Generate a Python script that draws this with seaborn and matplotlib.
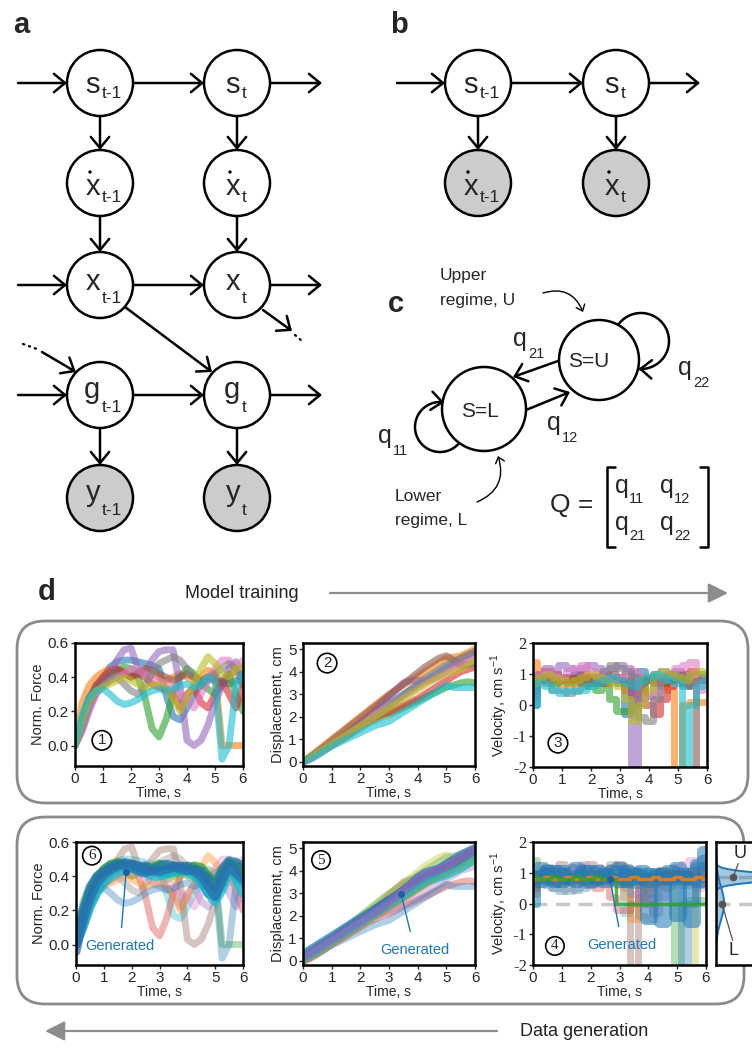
import numpy as np
import pandas as pd
import matplotlib
matplotlib.use("Agg")
import matplotlib.pyplot as plt
import seaborn as sns
from matplotlib.patches import Circle, FancyArrowPatch, FancyBboxPatch

sns.set_style("ticks")
plt.rcParams["font.family"] = ["Liberation Sans", "DejaVu Sans"]
plt.rcParams["mathtext.fontset"] = "custom"
plt.rcParams["mathtext.rm"] = "Liberation Sans"
plt.rcParams["mathtext.it"] = "Liberation Sans:italic"

# ---------------------------------------------------------------- data
TIME = np.linspace(0, 6, 25)          # s, 0.25 s sampling

force_observed = [
    [0.00, 0.10, 0.22, 0.32, 0.40, 0.46, 0.49, 0.50, 0.50, 0.49, 0.48, 0.47, 0.45, 0.30, 0.17, 0.15, 0.22, 0.30, 0.36, 0.38, 0.40, 0.37, 0.36, 0.38, 0.38],
    [0.00, 0.25, 0.35, 0.40, 0.43, 0.45, 0.44, 0.42, 0.40, 0.42, 0.44, 0.42, 0.40, 0.38, 0.40, 0.42, 0.40, 0.38, 0.40, 0.44, 0.42, 0.00, 0.00, 0.00, 0.00],
    [0.00, 0.15, 0.28, 0.33, 0.36, 0.40, 0.44, 0.46, 0.45, 0.40, 0.28, 0.10, 0.05, 0.15, 0.30, 0.40, 0.45, 0.42, 0.36, 0.33, 0.30, 0.35, 0.42, 0.30, 0.20],
    [0.00, 0.12, 0.25, 0.35, 0.40, 0.44, 0.45, 0.43, 0.40, 0.42, 0.40, 0.36, 0.34, 0.33, 0.30, 0.22, 0.30, 0.34, 0.25, 0.22, 0.30, 0.38, 0.30, 0.22, 0.35],
    [0.00, 0.08, 0.20, 0.30, 0.36, 0.42, 0.50, 0.56, 0.57, 0.45, 0.42, 0.50, 0.55, 0.56, 0.56, 0.35, 0.03, 0.00, 0.03, 0.12, 0.25, 0.35, 0.45, 0.49, 0.40],
    [0.00, 0.14, 0.27, 0.35, 0.38, 0.42, 0.44, 0.42, 0.40, 0.43, 0.45, 0.44, 0.42, 0.40, 0.38, 0.40, 0.42, 0.40, 0.38, 0.40, 0.38, 0.36, 0.40, 0.45, 0.35],
    [0.00, 0.10, 0.22, 0.30, 0.35, 0.38, 0.40, 0.42, 0.45, 0.44, 0.42, 0.40, 0.38, 0.36, 0.34, 0.30, 0.28, 0.22, 0.30, 0.38, 0.45, 0.50, 0.50, 0.45, 0.50],
    [0.00, 0.12, 0.25, 0.32, 0.35, 0.38, 0.40, 0.36, 0.32, 0.30, 0.35, 0.42, 0.48, 0.50, 0.52, 0.50, 0.45, 0.40, 0.35, 0.40, 0.42, 0.45, 0.48, 0.45, 0.40],
    [0.00, 0.14, 0.26, 0.32, 0.34, 0.36, 0.38, 0.40, 0.38, 0.36, 0.34, 0.35, 0.36, 0.34, 0.28, 0.20, 0.28, 0.36, 0.45, 0.52, 0.48, 0.42, 0.40, 0.45, 0.46],
    [0.00, 0.18, 0.28, 0.32, 0.33, 0.30, 0.26, 0.24, 0.25, 0.27, 0.30, 0.32, 0.33, 0.32, 0.33, 0.35, 0.36, 0.34, 0.36, 0.40, 0.38, -0.08, 0.00, 0.35, 0.42],
]

displacement_observed = [
    [0.0, 0.20, 0.40, 0.60, 0.80, 1.00, 1.20, 1.45, 1.70, 1.95, 2.20, 2.40, 2.60, 2.80, 3.00, 3.20, 3.40, 3.60, 3.80, 4.00, 4.20, 4.40, 4.60, 4.75, 4.90],
    [0.0, 0.25, 0.50, 0.75, 1.00, 1.25, 1.50, 1.75, 2.00, 2.25, 2.50, 2.75, 3.00, 3.20, 3.40, 3.60, 3.80, 4.00, 4.20, 4.40, 4.60, 4.65, 4.70, 4.85, 5.00],
    [0.0, 0.20, 0.38, 0.55, 0.72, 0.90, 1.10, 1.30, 1.50, 1.70, 1.85, 2.00, 2.10, 2.25, 2.40, 2.55, 2.70, 2.85, 3.00, 3.15, 3.30, 3.40, 3.50, 3.55, 3.50],
    [0.0, 0.20, 0.40, 0.60, 0.80, 1.00, 1.20, 1.40, 1.60, 1.80, 1.95, 2.10, 2.20, 2.35, 2.50, 2.65, 2.80, 3.00, 3.20, 3.40, 3.60, 3.80, 4.00, 4.10, 4.20],
    [0.0, 0.10, 0.30, 0.50, 0.75, 1.00, 1.25, 1.50, 1.75, 2.00, 2.30, 2.60, 2.90, 3.20, 3.50, 3.60, 3.60, 3.60, 3.65, 3.80, 4.00, 4.20, 4.40, 4.60, 4.80],
    [0.0, 0.20, 0.45, 0.70, 0.95, 1.20, 1.45, 1.70, 1.95, 2.20, 2.45, 2.70, 2.95, 3.20, 3.45, 3.70, 3.95, 4.20, 4.40, 4.60, 4.70, 4.50, 4.30, 4.30, 4.40],
    [0.0, 0.15, 0.35, 0.55, 0.75, 0.95, 1.15, 1.35, 1.60, 1.85, 2.10, 2.30, 2.50, 2.70, 2.90, 3.10, 3.30, 3.50, 3.70, 3.85, 4.00, 4.20, 4.40, 4.60, 4.70],
    [0.0, 0.20, 0.40, 0.60, 0.80, 1.00, 1.20, 1.40, 1.60, 1.80, 2.00, 2.20, 2.45, 2.70, 2.95, 3.20, 3.45, 3.70, 3.90, 4.10, 4.30, 4.45, 4.60, 4.75, 4.90],
    [0.0, 0.20, 0.40, 0.60, 0.80, 1.00, 1.20, 1.40, 1.60, 1.80, 2.00, 2.20, 2.40, 2.60, 2.80, 3.00, 3.20, 3.40, 3.60, 3.75, 3.90, 4.00, 4.10, 4.30, 4.50],
    [0.0, 0.15, 0.30, 0.50, 0.70, 0.85, 1.00, 1.15, 1.30, 1.45, 1.60, 1.70, 1.80, 2.00, 2.20, 2.40, 2.60, 2.80, 3.00, 3.20, 3.40, 3.30, 3.30, 3.30, 3.30],
]

velocity_observed = [
    [0.0, 0.9, 0.9, 1.0, 0.8, 0.9, 1.0, 0.8, 0.7, 0.8, 0.9, 0.8, 0.7, -0.3, 1.0, 1.1, 0.9, 0.8, 0.7, 0.8, 0.9, 0.6, 0.7, 0.8, 0.8],
    [1.4, 1.1, 0.9, 0.8, 0.7, 0.75, 0.7, 0.8, 0.9, 0.95, 0.9, 0.8, 0.75, 0.7, 0.8, 0.9, 0.85, 0.7, 0.6, 0.5, -2.2, 0.0, 0.1, 0.1, 0.1],
    [0.5, 0.9, 0.8, 0.7, 0.8, 0.9, 0.8, 0.7, 0.6, 0.5, 0.6, 0.2, -0.2, -0.2, 0.0, 0.5, 0.8, 0.9, 0.7, 0.8, 1.0, 0.8, 0.9, 1.0, 1.0],
    [0.6, 1.0, 1.1, 1.0, 0.9, 0.8, 0.9, 1.0, 0.9, 0.8, 0.7, 0.8, 0.9, 0.5, 0.3, 0.5, 0.0, -0.3, 0.2, 0.6, 0.8, 1.0, 1.1, 0.9, 0.8],
    [0.3, 1.0, 1.2, 1.0, 1.3, 1.2, 1.1, 1.2, 1.3, 1.2, 1.1, 1.2, 1.3, 1.2, -2.2, 0.2, 0.3, 1.0, 1.1, 1.0, 1.1, 1.0, 0.8, 0.9, 0.8],
    [0.6, 0.8, 0.9, 1.0, 0.8, 0.7, 0.8, 0.9, 0.8, 0.7, 0.9, 1.0, 0.8, 0.7, 0.6, 0.7, 0.8, 0.7, 0.9, 1.0, 0.9, 0.7, 0.6, -2.2, -2.2],
    [0.7, 1.0, 1.1, 1.0, 0.9, 1.1, 1.2, 1.3, 1.1, 1.0, 0.9, 0.8, 0.9, 1.0, 1.1, 0.2, 0.0, 0.4, 0.9, 1.0, 1.2, 1.3, 1.4, 0.5, 0.7],
    [0.6, 0.9, 0.7, 0.5, 0.5, 0.4, 0.5, 0.6, 0.7, 0.9, 1.1, 1.3, 1.2, 1.1, 0.9, -0.4, -0.5, 0.2, 0.8, 1.0, 0.9, 0.8, 0.7, 0.8, 0.9],
    [0.7, 0.9, 1.0, 0.9, 0.8, 0.7, 0.8, 0.9, 1.0, 0.9, 0.8, 0.7, 0.6, 0.2, -0.5, 0.0, 0.5, 1.0, 1.1, 1.0, 0.9, 0.8, 1.0, 1.1, 1.0],
    [0.0, 0.7, 0.6, 0.5, 0.4, 0.5, 0.45, 0.5, 0.6, 0.7, 0.8, 0.9, 0.8, 0.7, 0.6, 0.8, 0.9, 1.0, 0.9, 0.8, 0.7, -2.2, 0.0, 0.6, 0.8],
]

force_generated = [
    [0.00, 0.15, 0.28, 0.37, 0.42, 0.45, 0.47, 0.47, 0.46, 0.45, 0.46, 0.44, 0.42, 0.44, 0.46, 0.45, 0.44, 0.42, 0.38, 0.30, 0.28, 0.36, 0.47, 0.44, 0.40],
    [0.00, 0.12, 0.24, 0.33, 0.39, 0.43, 0.45, 0.46, 0.47, 0.46, 0.44, 0.43, 0.42, 0.42, 0.43, 0.45, 0.46, 0.45, 0.42, 0.35, 0.30, 0.40, 0.46, 0.40, 0.36],
    [0.00, 0.18, 0.31, 0.39, 0.44, 0.47, 0.48, 0.47, 0.46, 0.44, 0.43, 0.45, 0.47, 0.46, 0.44, 0.43, 0.44, 0.46, 0.45, 0.40, 0.33, 0.42, 0.48, 0.46, 0.44],
    [0.00, 0.10, 0.22, 0.30, 0.36, 0.40, 0.42, 0.44, 0.45, 0.44, 0.42, 0.40, 0.40, 0.41, 0.42, 0.43, 0.42, 0.40, 0.36, 0.30, 0.25, 0.32, 0.44, 0.38, 0.30],
    [0.00, 0.20, 0.33, 0.40, 0.43, 0.46, 0.47, 0.46, 0.45, 0.43, 0.42, 0.44, 0.46, 0.47, 0.46, 0.44, 0.43, 0.44, 0.43, 0.38, 0.34, 0.44, 0.49, 0.48, 0.46],
    [-0.04, 0.14, 0.27, 0.36, 0.41, 0.44, 0.46, 0.48, 0.47, 0.45, 0.44, 0.43, 0.43, 0.44, 0.45, 0.46, 0.45, 0.43, 0.40, 0.34, 0.28, 0.38, 0.45, 0.42, 0.38],
]

displacement_generated = [
    [0.30, 0.50, 0.70, 0.90, 1.10, 1.30, 1.50, 1.70, 1.90, 2.10, 2.30, 2.50, 2.70, 2.90, 3.15, 3.40, 3.70, 3.90, 4.00, 4.10, 4.30, 4.50, 4.70, 4.85, 5.00],
    [0.10, 0.30, 0.50, 0.70, 0.90, 1.10, 1.30, 1.50, 1.70, 1.90, 2.10, 2.30, 2.50, 2.70, 2.90, 3.10, 3.30, 3.50, 3.70, 3.85, 4.00, 4.20, 4.40, 4.60, 4.80],
    [0.00, 0.20, 0.40, 0.60, 0.80, 1.00, 1.20, 1.40, 1.60, 1.80, 2.00, 2.20, 2.40, 2.60, 2.80, 3.00, 3.20, 3.40, 3.60, 3.75, 3.90, 4.10, 4.30, 4.45, 4.60],
    [0.20, 0.40, 0.60, 0.80, 1.00, 1.20, 1.40, 1.60, 1.80, 2.00, 2.20, 2.45, 2.70, 2.90, 3.10, 3.30, 3.50, 3.70, 3.85, 4.00, 4.15, 4.30, 4.50, 4.70, 4.90],
    [0.05, 0.25, 0.45, 0.65, 0.85, 1.05, 1.25, 1.45, 1.65, 1.85, 2.05, 2.25, 2.45, 2.65, 2.85, 3.05, 3.25, 3.45, 3.60, 3.70, 3.80, 3.95, 4.10, 4.30, 4.50],
    [0.15, 0.35, 0.55, 0.75, 0.95, 1.15, 1.35, 1.55, 1.75, 1.95, 2.15, 2.35, 2.60, 2.85, 3.10, 3.35, 3.60, 3.80, 3.95, 4.05, 4.20, 4.40, 4.60, 4.75, 4.95],
]

velocity_generated = [
    [1.0, 1.2, 0.8, 1.1, 0.7, 1.0, 1.2, 0.8, 0.9, 1.1, 0.7, 1.0, 1.2, 0.9, 0.8, 1.1, 0.7, 1.0, -0.6, 0.9, 1.2, 0.8, 1.0, 1.3, 1.7],
    [0.8, 0.9, 1.1, 0.7, 1.0, 0.8, 0.9, 1.1, 0.7, 0.9, 1.0, 0.8, 0.7, 1.1, 1.0, 0.9, -0.5, 0.8, 1.0, 1.1, -0.4, 0.9, 0.8, 0.7, 1.2],
    [0.9, 0.7, 1.0, 1.0, 1.1, 0.8, 0.7, 1.0, 1.1, 0.8, 0.9, 1.1, 1.0, 0.7, 1.0, 0.8, 1.0, 0.9, 1.0, 0.8, 0.9, 1.0, -0.6, 1.2, 1.4],
    [0.8, 0.8, 0.85, 0.8, 0.8, 0.85, 0.8, 0.8, 0.85, 0.8, 0.8, 0.85, 0.8, 0.8, 0.85, 0.8, 0.8, 0.85, 0.8, 0.8, 0.85, 0.8, 0.8, 0.85, 0.8],
    [0.9, 0.8, 0.8, 0.9, 0.8, 0.8, 0.9, 0.8, 0.8, 0.9, 0.8, 0.8, 0.0, 0.0, 0.0, 0.0, 0.0, 0.0, 0.0, 0.0, 0.0, 0.0, 0.0, 0.0, 0.0],
]

# two-regime mixture for the velocity density (mean, sd, weight)
regime_names = ["U", "L"]
regime_mean = [0.85, 0.0]
regime_sd = [0.14, 0.55]
regime_weight = [0.7, 0.3]

TAB = sns.color_palette("tab10")
obs_colors_top = list(TAB)
obs_colors_bottom = [TAB[i] for i in [9, 2, 3, 4, 5, 8, 6, 7, 1, 0]]
gen_force_colors = ["#1f5fa8", "#1f77b4", "#2ca02c", "#17becf", "#1f77b4", "#2a6fb0"]
gen_disp_colors = ["#1f77b4", "#2ca02c", "#ff7f0e", "#1f77b4", "#17becf", "#9467bd"]
gen_vel_colors = ["#1f77b4", "#1f77b4", "#1f77b4", "#ff7f0e", "#2ca02c"]
GEN_BLUE = "#1f77b4"

# ---------------------------------------------------------------- figure
fig = plt.figure(figsize=(7.52, 10.48), dpi=100)

# full-figure canvas in pixel units for the graphical-model diagrams
ov = fig.add_axes([0, 0, 1, 1])
ov.set_xlim(0, 752)
ov.set_ylim(1048, 0)
ov.axis("off")
ov.patch.set_alpha(0)

LW = 1.8
HEAD = "->,head_length=0.4,head_width=0.33"


def arrow(p, q, lw=LW, color="black", style=HEAD, ms=20, zorder=2, **kw):
    ov.add_patch(FancyArrowPatch(p, q, arrowstyle=style, mutation_scale=ms, lw=lw,
                                 color=color, shrinkA=0, shrinkB=0, zorder=zorder, **kw))


def node(cx, cy, main, sub, fill="white", base=10, subbase=15, dot=False, r=33):
    ov.add_patch(Circle((cx, cy), r, fc=fill, ec="black", lw=LW, zorder=3))
    right = cx + (0 if len(sub) > 1 else 3)
    ov.text(right, cy + base, main, ha="right", va="baseline", fontsize=21, zorder=4)
    ov.text(right + 2, cy + subbase, sub, ha="left", va="baseline", fontsize=12.5, zorder=4)
    if dot:
        ov.add_patch(Circle((right - 10, cy + base - 23), 1.7, fc="black", ec="none", zorder=4))


def dotted(p, q):
    ov.plot([p[0], q[0]], [p[1], q[1]], color="black", lw=1.6, ls=(0, (0.6, 2.2)),
            dash_capstyle="round", zorder=2)


# panel a
ov.text(13, 33, "a", fontsize=21, fontweight="bold", ha="left", va="baseline")
COLS_A = [100, 237]
rows_a = [("s", 83, "white", 10, 15, False),
          ("x", 183, "white", 12, 19, True),
          ("x", 285, "white", 5, 18, False),
          ("g", 395, "white", 3, 17, False),
          ("y", 498, "#cccccc", 3, 17, False)]
for letter, cy, fill, b, sb, d in rows_a:
    node(COLS_A[0], cy, letter, "t-1", fill, b, sb, d)
    node(COLS_A[1], cy, letter, "t", fill, b, sb, d)
for cy in (83, 285, 395):
    arrow((18, cy), (67, cy))
    arrow((133, cy), (204, cy))
    arrow((270, cy), (322, cy))
for cx in COLS_A:
    arrow((cx, 116), (cx, 150))
    arrow((cx, 216), (cx, 252))
    arrow((cx, 428), (cx, 465))
arrow((125, 307), (212, 372))
arrow((263, 310), (292, 331))
dotted((295, 335), (302, 341))
dotted((23, 344), (37, 349))
arrow((42, 352), (76, 372))

# panel b
ov.text(390, 33, "b", fontsize=21, fontweight="bold", ha="left", va="baseline")
COLS_B = [478, 616]
node(COLS_B[0], 83, "s", "t-1")
node(COLS_B[1], 83, "s", "t")
node(COLS_B[0], 183, "x", "t-1", "#cccccc", 12, 19, True)
node(COLS_B[1], 183, "x", "t", "#cccccc", 12, 19, True)
arrow((397, 83), (445, 83))
arrow((511, 83), (583, 83))
arrow((649, 83), (700, 83))
for cx in COLS_B:
    arrow((cx, 116), (cx, 150))

# panel c: two-state switching diagram
ov.text(388, 312, "c", fontsize=21, fontweight="bold", ha="left", va="baseline")
U_C, U_R = (599, 360), 40
L_C, L_R = (484, 409), 42
ov.add_patch(Circle(U_C, U_R, fc="white", ec="black", lw=LW, zorder=3))
ov.add_patch(Circle(L_C, L_R, fc="white", ec="black", lw=LW, zorder=3))
ov.text(589, 367, "S=U", ha="center", va="baseline", fontsize=15, zorder=4)
ov.text(480, 417, "S=L", ha="center", va="baseline", fontsize=15, zorder=4)
arrow((558, 361), (513, 377))
arrow((526, 410), (570, 392))


def loop(center, radius, a0, a1):
    ang = np.deg2rad(np.linspace(a0, a1, 80))
    xs = center[0] + radius * np.cos(ang)
    ys = center[1] + radius * np.sin(ang)
    ov.plot(xs, ys, color="black", lw=LW, zorder=2, solid_capstyle="butt")
    arrow((xs[-3], ys[-3]), (xs[-1], ys[-1]), zorder=5)


loop((641, 341), 28, 212, 455)
loop((440, 427), 25, 40, 280)


def qlabel(x, y, sub, sub_dx=15, sub_dy=12):
    ov.text(x, y, "q", ha="left", va="baseline", fontsize=18)
    ov.text(x + sub_dx, y + sub_dy, sub, ha="left", va="baseline", fontsize=10.5)


qlabel(513, 346, "21")
qlabel(678, 375, "22")
qlabel(378, 443, "11")
qlabel(547, 430, "12")

ov.text(440, 280, "Upper", ha="left", va="baseline", fontsize=12.5)
ov.text(440, 305, "regime, U", ha="left", va="baseline", fontsize=12.5)
arrow((543, 293), (583, 312), lw=1.0, ms=10, connectionstyle="arc3,rad=-0.45")
ov.text(395, 501, "Lower", ha="left", va="baseline", fontsize=12.5)
ov.text(395, 525, "regime, L", ha="left", va="baseline", fontsize=12.5)
arrow((477, 502), (498, 456), lw=1.0, ms=10, connectionstyle="arc3,rad=0.45")

# transition matrix
ov.text(572, 512, "Q =", ha="center", va="baseline", fontsize=19)
ov.plot([615, 607, 607, 615], [467, 467, 547, 547], color="black", lw=LW)
ov.plot([700, 708, 708, 700], [467, 467, 547, 547], color="black", lw=LW)
for (qx, qy, sub) in [(615, 493, "11"), (660, 493, "12"), (615, 530, "21"), (660, 530, "22")]:
    qlabel(qx, qy, sub, sub_dx=14, sub_dy=10)

# panel d frame, headers and process arrows
ov.text(38, 600, "d", fontsize=21, fontweight="bold", ha="left", va="baseline")
ov.text(242, 598, "Model training", ha="center", va="baseline", fontsize=13, color="#222222")
ov.text(584, 1036, "Data generation", ha="center", va="baseline", fontsize=13, color="#222222")
ARROW_GRAY = "#8c8c8c"
arrow((330, 593), (728, 593), lw=1.6, color=ARROW_GRAY, style="-|>,head_length=0.6,head_width=0.3")
arrow((497, 1031), (45, 1031), lw=1.6, color=ARROW_GRAY, style="-|>,head_length=0.6,head_width=0.3")
ov.add_patch(FancyBboxPatch((17, 621), 731, 182, boxstyle="round,pad=0,rounding_size=28",
                            fc="none", ec="#8a8a8a", lw=2.0, zorder=1))
ov.add_patch(FancyBboxPatch((17, 817), 727, 187, boxstyle="round,pad=0,rounding_size=28",
                            fc="none", ec="#8a8a8a", lw=2.0, zorder=1))


# ---------------------------------------------------------------- trace panels
def px_axes(left, right, top, bottom):
    return fig.add_axes([left / 752, 1 - bottom / 1048, (right - left) / 752, (bottom - top) / 1048])


def draw_traces(ax, trials, colors, lw, alpha, steps=False):
    n = len(trials)
    df = pd.DataFrame({
        "t": np.tile(TIME, n),
        "value": np.concatenate([np.asarray(tr, float) for tr in trials]),
        "trial": np.repeat([f"trial {i}" for i in range(n)], len(TIME)),
    })
    extra = {"drawstyle": "steps-mid"} if steps else {}
    sns.lineplot(data=df, x="t", y="value", hue="trial", palette=list(colors[:n]),
                 lw=lw, alpha=alpha, legend=False, estimator=None, ax=ax,
                 solid_capstyle="round", solid_joinstyle="round", **extra)


def style_axes(ax, ylim, yticks, yticklabels, ylabel, serif=False):
    ax.set_xlim(0, 6)
    ax.set_ylim(*ylim)
    ax.set_xticks(range(7))
    ax.set_yticks(yticks)
    ax.set_yticklabels(yticklabels)
    ax.set_xlabel("Time, s", fontsize=10, labelpad=0)
    ax.set_ylabel(ylabel, fontsize=10.5, labelpad=2)
    ax.tick_params(labelsize=11, length=3, width=1.0, pad=1.5, direction="out")
    if serif:
        for lab in ax.get_yticklabels():
            lab.set_fontfamily("Liberation Serif")
            lab.set_fontsize(12)
    for sp in ax.spines.values():
        sp.set_visible(True)
        sp.set_linewidth(1.8)
        sp.set_color("black")


def circled(ax, x, y, label, serif=False):
    ax.text(x, y, label, ha="center", va="center", fontsize=11, zorder=10,
            fontfamily="Liberation Serif" if serif else "Liberation Sans",
            bbox=dict(boxstyle="circle,pad=0.18", fc="none", ec="black", lw=1.2))


def generated_label(ax, xy, xytext):
    ax.annotate("Generated", xy=xy, xytext=xytext, ha="center", va="center", fontsize=10.5,
                color=GEN_BLUE, zorder=10,
                arrowprops=dict(arrowstyle="-", color=GEN_BLUE, lw=1.0, shrinkA=6, shrinkB=0))
    ax.plot([xy[0]], [xy[1]], "o", color="#1f5fa8", ms=4, zorder=11)


F_LIM, D_LIM, V_LIM = (-0.12, 0.6), (-0.18, 5.27), (-2, 2)
F_TICKS, D_TICKS, V_TICKS = [0, 0.2, 0.4, 0.6], [0, 1, 2, 3, 4, 5], [-2, -1, 0, 1, 2]
F_LABELS = ["0.0", "0.2", "0.4", "0.6"]
D_LABELS = [str(v) for v in D_TICKS]
V_LABELS = [str(v) for v in V_TICKS]
VEL_LABEL = "Velocity, cm s$^{-1}$"
OBS_LW = 5.0

# row 1: observed data used for training
ax1 = px_axes(75, 243, 643, 766)
draw_traces(ax1, force_observed, obs_colors_top, OBS_LW, 0.6)
style_axes(ax1, F_LIM, F_TICKS, F_LABELS, "Norm. Force")
circled(ax1, 0.96, 0.03, "1")

ax2 = px_axes(303, 475, 643, 766)
draw_traces(ax2, displacement_observed, obs_colors_top, OBS_LW, 0.6)
style_axes(ax2, D_LIM, D_TICKS, D_LABELS, "Displacement, cm")
circled(ax2, 0.84, 4.38, "2")

ax3 = px_axes(533, 707, 643, 767)
draw_traces(ax3, velocity_observed, obs_colors_top, OBS_LW, 0.6, steps=True)
style_axes(ax3, V_LIM, V_TICKS, V_LABELS, VEL_LABEL, serif=True)
circled(ax3, 0.86, -1.23, "3")

# row 2: generated samples over the observed data
ax6 = px_axes(76, 243, 842, 965)
draw_traces(ax6, force_observed, obs_colors_bottom, OBS_LW, 0.35)
draw_traces(ax6, force_generated, gen_force_colors, 6.5, 0.75)
style_axes(ax6, F_LIM, F_TICKS, F_LABELS, "Norm. Force")
circled(ax6, 0.57, 0.52, "6", serif=True)
generated_label(ax6, (1.8, 0.424), (1.58, -0.01))

ax5 = px_axes(303, 475, 842, 965)
draw_traces(ax5, displacement_observed, obs_colors_bottom, OBS_LW, 0.35)
draw_traces(ax5, displacement_generated, gen_disp_colors, 6.0, 0.7)
style_axes(ax5, D_LIM, D_TICKS, D_LABELS, "Displacement, cm")
circled(ax5, 0.63, 4.47, "5", serif=True)
generated_label(ax5, (3.42, 2.97), (3.9, 0.49))

ax4 = px_axes(533, 706, 842, 965)
ax4.axhline(0, color="#c8c8c8", lw=2.5, ls=(0, (4, 2.5)), zorder=0.5)
draw_traces(ax4, velocity_observed, obs_colors_bottom, OBS_LW, 0.35, steps=True)
draw_traces(ax4, velocity_generated[:3], gen_vel_colors[:3], 8.0, 0.55, steps=True)
draw_traces(ax4, velocity_generated[3:], gen_vel_colors[3:], 2.5, 0.8, steps=True)
style_axes(ax4, V_LIM, V_TICKS, V_LABELS, VEL_LABEL, serif=True)
circled(ax4, 0.76, -1.38, "4", serif=True)
generated_label(ax4, (2.67, 0.8), (3.09, -1.35))

# velocity density split into the two regimes
axd = px_axes(716, 790, 842, 965)
vgrid = np.linspace(-2, 2, 401)
for m, s, w in zip(regime_mean, regime_sd, regime_weight):
    dens = w * np.exp(-0.5 * ((vgrid - m) / s) ** 2) / (s * np.sqrt(2 * np.pi))
    axd.fill_betweenx(vgrid, 0, dens, color=GEN_BLUE, alpha=0.4, lw=0)
    axd.plot(dens, vgrid, color=GEN_BLUE, lw=1.4)
for m in regime_mean:
    axd.axhline(m, color="#c8c8c8", lw=2.5, ls=(0, (4, 2.5)), zorder=0.5)
axd.set_xlim(0, 2.0)
axd.set_ylim(*V_LIM)
axd.set_xticks([])
axd.set_yticks([])
for sp in axd.spines.values():
    sp.set_linewidth(1.8)
    sp.set_color("black")
dot_x = [0.46, 0.16]
label_xy = [(0.65, 1.62), (0.46, -1.52)]
leader_end = [(0.6, 1.3), (0.45, -1.2)]
for name, m, dx, lxy, le in zip(regime_names, regime_mean, dot_x, label_xy, leader_end):
    axd.plot([dx, le[0]], [m, le[1]], color="#555555", lw=0.9, zorder=5)
    axd.plot([dx], [m], "o", color="#555555", ms=4.5, zorder=6)
    axd.text(lxy[0], lxy[1], name, ha="center", va="center", fontsize=13, zorder=6)

fig.savefig("out.png", dpi=100)
